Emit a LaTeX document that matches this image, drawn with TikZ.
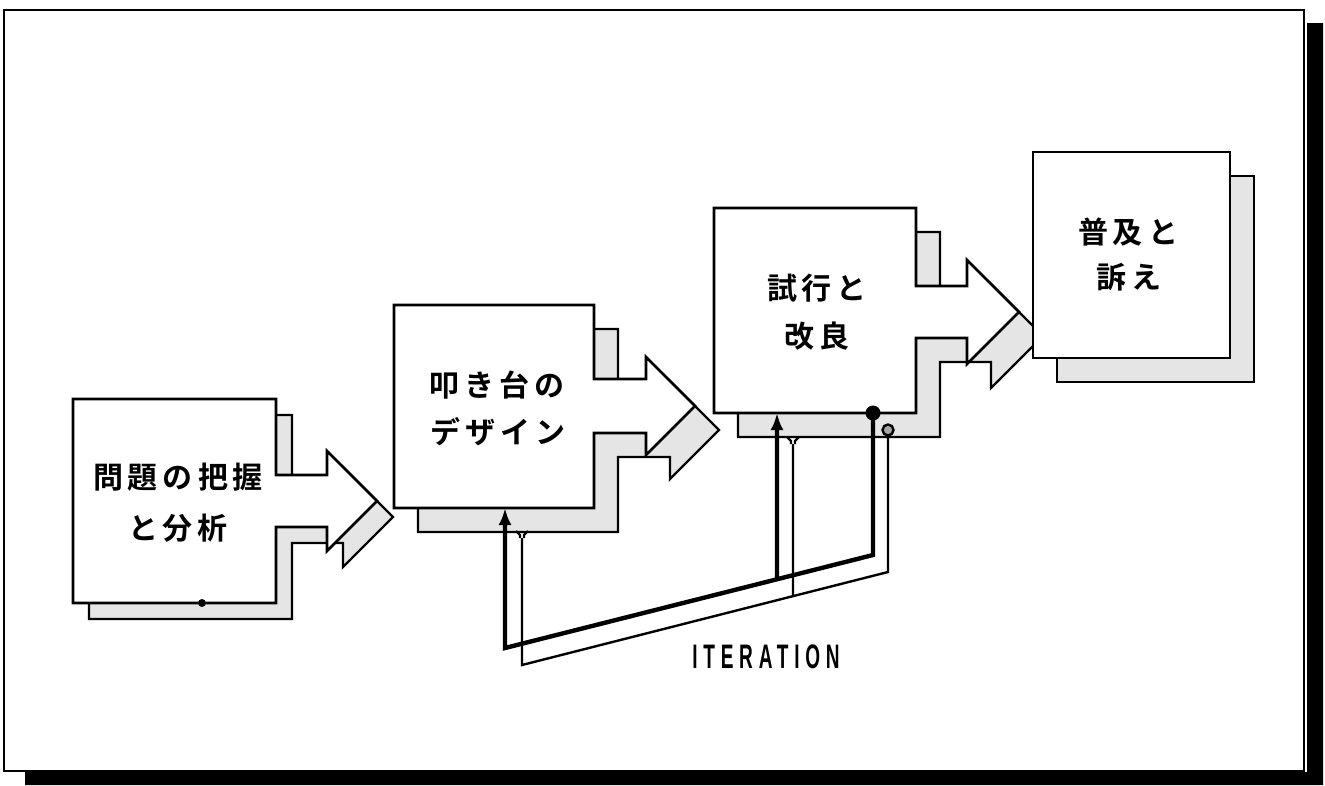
\documentclass[tikz,border=0pt]{standalone}
\usepackage{fontspec}
\usetikzlibrary{arrows.meta,calc}
\setmainfont{Liberation Sans}
\newfontfamily\cjk{Noto Sans CJK JP}[BoldFont={Noto Sans CJK JP Bold}]
\def\gp{\hspace{5pt}}
% block: x1 y1 x2 y2 bodytop bodybot xb half offset
\newcommand\blockdraw[9]{%
  \draw[shd, shift={(#9,#9)}] (#1,#2) -- (#3,#2) -- (#3,#5) -- (#7,#5) -- (#7,{(#5+#6)/2-#8}) -- ({#7+#8},{(#5+#6)/2}) -- (#7,{(#5+#6)/2+#8}) -- (#7,#6) -- (#3,#6) -- (#3,#4) -- (#1,#4) -- cycle;
  \draw[front] (#1,#2) -- (#3,#2) -- (#3,#5) -- (#7,#5) -- (#7,{(#5+#6)/2-#8}) -- ({#7+#8},{(#5+#6)/2}) -- (#7,{(#5+#6)/2+#8}) -- (#7,#6) -- (#3,#6) -- (#3,#4) -- (#1,#4) -- cycle;
}
\newcommand\fork[1]{%
  \draw[thinline] ($(#1)+(-6,0)$) -- ($(#1)+(-2,4)$) -- ($(#1)+(-2,7)$);
  \draw[thinline] ($(#1)+(6,0)$) -- ($(#1)+(2,4)$) -- ($(#1)+(2,7)$);
}
\begin{document}
\begin{tikzpicture}[x=1pt,y=-1pt,
  shd/.style={fill=black!10, draw=black, line width=2.4pt, line join=miter},
  front/.style={fill=white, draw=black, line width=2.6pt, line join=miter},
  jp/.style={font=\cjk\bfseries\fontsize{30}{30}\selectfont, inner sep=0pt, anchor=center},
  thickline/.style={line width=4.4pt, line join=miter},
  thinline/.style={line width=2.4pt, line join=miter},
  tip/.style={-{Latex[length=17pt,width=13pt]}}]
\useasboundingbox (0,0) rectangle (1325,785);
% frame
\fill[black] (1307,23) -- (1323,23) -- (1323,785) -- (25,785) -- (25,772) -- (1307,772) -- cycle;
\draw[line width=2.4pt] (4,10) rectangle (1304,771);
% blocks
\blockdraw{73}{399}{276}{603}{475}{527}{327}{50}{16}
\blockdraw{394}{305}{594}{508}{379}{433}{646}{49}{24}
\blockdraw{714}{208}{916}{413}{286}{338}{967}{52}{24}
\draw[shd] (1057,176) rectangle (1254,382);
\draw[front] (1033,152) rectangle (1230,358);
% texts
\node[jp] (t1a) at (178,477) {問\gp{}題\gp{}の\gp{}把\gp{}握};
\node[jp] (t1b) at (178,528) {と\gp{}分\gp{}析};
\node[jp] (t2a) at (497,385) {叩\gp{}き\gp{}台\gp{}の};
\node[jp] (t2b) at (498,432) {デ\gp{}ザ\gp{}イ\gp{}ン};
\node[jp] (t3a) at (817,288) {試\gp{}行\gp{}と};
\node[jp] (t3b) at (817,336) {改\gp{}良};
\node[jp] (t4a) at (1128,232) {普\gp{}及\gp{}と};
\node[jp] (t4b) at (1129,277) {訴\gp{}え};
% small dot on block 1
\fill (202,603) circle (4);
% iteration connectors
\coordinate (d3) at (873,413);
\coordinate (k1) at (873,555);
\coordinate (k2) at (505,648);
\coordinate (in2) at (505,508);
\coordinate (in3) at (777,413);
\coordinate (kb) at ($(k1)!0.2609!(k2)$);
\coordinate (g3) at (888,430);
\coordinate (m1) at (888,572);
\coordinate (m2) at (522,665);
\coordinate (f2) at (522,531);
\coordinate (f3) at (793,437);
\coordinate (mb) at ($(m1)!0.2596!(m2)$);
\draw[thinline] (g3) -- (m1) -- (m2) -- ($(f2)+(0,7)$);
\draw[thinline] (mb) -- ($(f3)+(0,7)$);
\fork{f2}
\fork{f3}
\draw[thinline, fill=black!35] (g3) circle (5.5);
\draw[thickline, tip] (d3) -- (k1) -- (k2) -- (in2);
\draw[thickline, tip] (kb) -- (in3);
\fill (d3) circle (7.5);
\node[font={\bfseries\fontsize{34}{34}\selectfont\addfontfeatures{FakeStretch=0.56,LetterSpace=17}}, inner sep=0pt] (it) at (766,657) {ITERATION};
\end{tikzpicture}
\end{document}
